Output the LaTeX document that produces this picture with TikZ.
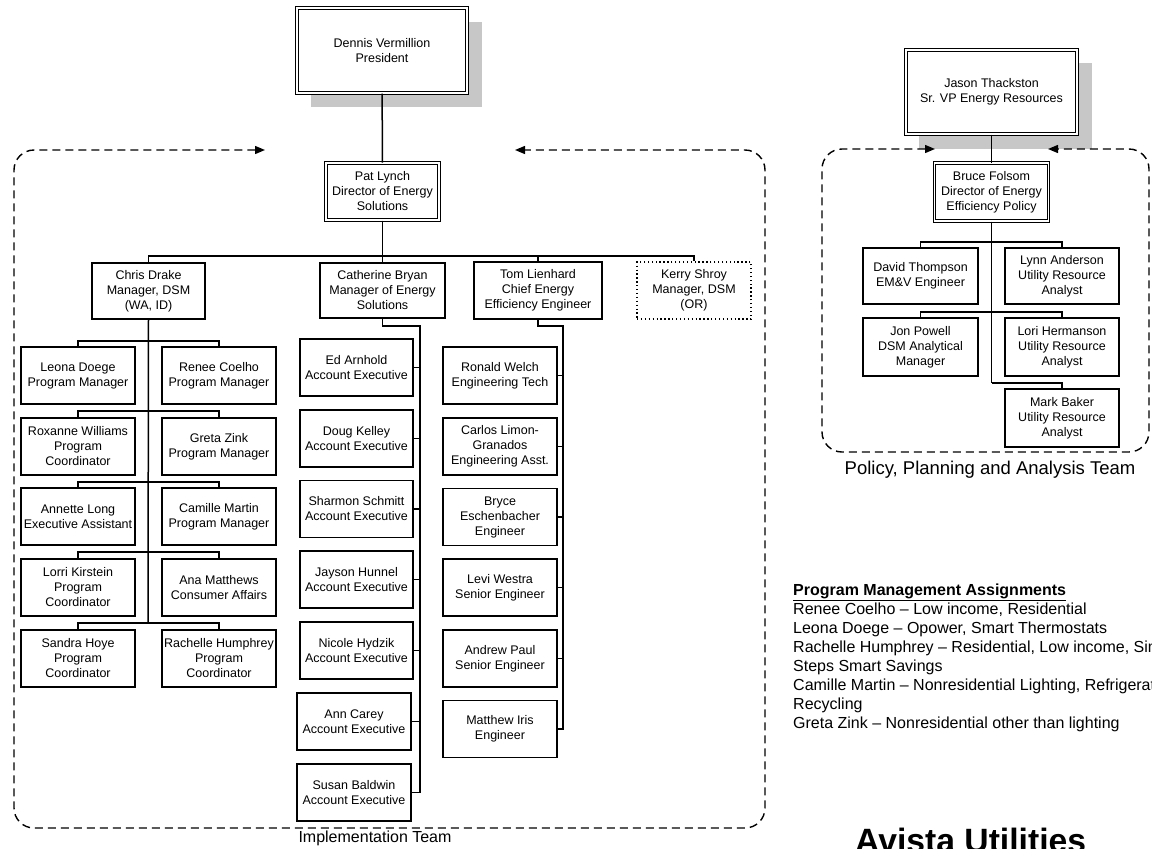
\documentclass[tikz,border=0pt]{standalone}
\usepackage{fontspec}
\setmainfont{Liberation Sans}
\usetikzlibrary{arrows.meta}
\begin{document}
\begin{tikzpicture}[x=1pt,y=-1pt,
  box/.style={draw, line width=1.5pt, rectangle, align=center, inner sep=1pt,
              font=\fontsize{12.5}{15}\selectfont, fill=white},
  dbox/.style={box, double, double distance=1.8pt, line width=1pt},
  dotbox/.style={box, line width=1.3pt, dash pattern=on 1.3pt off 2.6pt},
  wh/.style 2 args={minimum width=#1pt, minimum height=#2pt},
  conn/.style={line width=1.5pt},
  team/.style={line width=1.4pt, dash pattern=on 8pt off 5pt, rounded corners=20pt,
               {Triangle[length=10pt,width=8pt]}-{Triangle[length=10pt,width=8pt]}},
  shadowfill/.style={fill=black!22},
  teamlabel/.style={inner sep=0pt}
]
\useasboundingbox (0,0) rectangle (1152,849);
\clip (0,0) rectangle (1152,849);

% shadows
\fill[shadowfill] (311,22) rectangle (482,107);
\fill[shadowfill] (919,63) rectangle (1092,149);

% ---------- Implementation side ----------
\node[dbox, wh={170}{85}] (pres) at (382,50.5) {Dennis Vermillion\\President};
\node[dbox, wh={113}{57}] (pat) at (382.5,191.5) {Pat Lynch\\Director of Energy\\Solutions};

\node[box, wh={113}{56}] (chris) at (148.5,291) {Chris Drake\\Manager, DSM\\(WA, ID)};
\node[box, wh={125}{55}] (cath) at (382.5,290.5) {Catherine Bryan\\Manager of Energy\\Solutions};
\node[box, wh={128}{57}] (tom) at (538,290.5) {Tom Lienhard\\Chief Energy\\Efficiency Engineer};
\node[dotbox, wh={114}{57}] (kerry) at (694,290.5) {Kerry Shroy\\Manager, DSM\\(OR)};

% Chris Drake's team
\node[box, wh={114}{57}] (leona) at (78,375.5) {Leona Doege\\Program Manager};
\node[box, wh={114}{57}] (renee) at (219,375.5) {Renee Coelho\\Program Manager};
\node[box, wh={114}{57}] (roxanne) at (78,446.5) {Roxanne Williams\\Program\\Coordinator};
\node[box, wh={114}{57}] (greta) at (219,446.5) {Greta Zink\\Program Manager};
\node[box, wh={114}{57}] (annette) at (78,516.5) {Annette Long\\Executive Assistant};
\node[box, wh={114}{57}] (camille) at (219,516.5) {Camille Martin\\Program Manager};
\node[box, wh={114}{57}] (lorri) at (78,587.5) {Lorri Kirstein\\Program\\Coordinator};
\node[box, wh={114}{57}] (ana) at (219,587.5) {Ana Matthews\\Consumer Affairs};
\node[box, wh={114}{57}] (sandra) at (78,658.5) {Sandra Hoye\\Program\\Coordinator};
\node[box, wh={114}{57}] (rachelle) at (219,658.5) {Rachelle Humphrey\\Program\\Coordinator};

% Catherine Bryan's team
\node[box, wh={113}{57}] (ed) at (356.5,367.5) {Ed Arnhold\\Account Executive};
\node[box, wh={113}{57}] (doug) at (356.5,438.5) {Doug Kelley\\Account Executive};
\node[box, wh={113}{57}] (sharmon) at (356.5,509) {Sharmon Schmitt\\Account Executive};
\node[box, wh={113}{57}] (jayson) at (356.5,579.5) {Jayson Hunnel\\Account Executive};
\node[box, wh={113}{57}] (nicole) at (356.5,650.5) {Nicole Hydzik\\Account Executive};
\node[box, wh={114}{57}] (ann) at (354,721.5) {Ann Carey\\Account Executive};
\node[box, wh={114}{57}] (susan) at (354,792.5) {Susan Baldwin\\Account Executive};

% Tom Lienhard's team
\node[box, wh={114}{57}] (ronald) at (500,375.5) {Ronald Welch\\Engineering Tech};
\node[box, wh={114}{57}] (carlos) at (500,446.5) {Carlos Limon-\\Granados\\Engineering Asst.};
\node[box, wh={114}{57}] (bryce) at (500,517) {Bryce\\Eschenbacher\\Engineer};
\node[box, wh={114}{57}] (levi) at (500,587.5) {Levi Westra\\Senior Engineer};
\node[box, wh={114}{57}] (andrew) at (500,658.5) {Andrew Paul\\Senior Engineer};
\node[box, wh={114}{57}] (matthew) at (500,729) {Matthew Iris\\Engineer};

% connectors
\draw[conn] (pres) -- (pat);
\coordinate (mbar) at (382,256);
\draw[conn] (pat) -- (cath);
\draw[conn] (chris.north) |- (mbar) -| (kerry.north);
\draw[conn] (tom.north) -- (tom.north |- mbar);

\coordinate (cd1) at (148,341);
\coordinate (cd2) at (148,411);
\coordinate (cd3) at (148,482);
\coordinate (cd4) at (148,552);
\coordinate (cd5) at (148,623);
\draw[conn] (chris.south) -- (cd5);
\draw[conn] (leona.north) |- (cd1) -| (renee.north);
\draw[conn] (roxanne.north) |- (cd2) -| (greta.north);
\draw[conn] (annette.north) |- (cd3) -| (camille.north);
\draw[conn] (lorri.north) |- (cd4) -| (ana.north);
\draw[conn] (sandra.north) |- (cd5) -| (rachelle.north);

\coordinate (cbtop) at (420,326);
\draw[conn] (cath.south) |- (cbtop) -- (cbtop |- susan.east) -- (susan.east);
\foreach \n in {ed,doug,sharmon,jayson,nicole,ann}
  \draw[conn] (\n.east) -- (\n.east -| cbtop);

\coordinate (tltop) at (563,326);
\draw[conn] (tom.south) |- (tltop) -- (tltop |- matthew.east) -- (matthew.east);
\foreach \n in {ronald,carlos,bryce,levi,andrew}
  \draw[conn] (\n.east) -- (\n.east -| tltop);

% implementation team boundary
\coordinate (ia) at (265,150);
\coordinate (ib) at (515,150);
\draw[team] (ia) -- (14,150) -- (14,828) -- (765,828) -- (765,150) -- (ib);
\node[teamlabel, font=\fontsize{16}{18}\selectfont] (implab) at (375,838) {Implementation Team};

% ---------- Policy side ----------
\node[dbox, wh={171}{84}] (jason) at (991.5,92) {Jason Thackston\\Sr. VP Energy Resources};
\node[dbox, wh={114}{58}] (bruce) at (991.5,192) {Bruce Folsom\\Director of Energy\\Efficiency Policy};

\node[box, wh={115}{56}] (david) at (920.5,276) {David Thompson\\EM\&V Engineer};
\node[box, wh={114}{56}] (lynn) at (1062,276) {Lynn Anderson\\Utility Resource\\Analyst};
\node[box, wh={115}{58}] (jon) at (920.5,347) {Jon Powell\\DSM Analytical\\Manager};
\node[box, wh={114}{58}] (lori) at (1062,347) {Lori Hermanson\\Utility Resource\\Analyst};
\node[box, wh={114}{58}] (mark) at (1062,418) {Mark Baker\\Utility Resource\\Analyst};

\draw[conn] (jason) -- (bruce);
\coordinate (bf1) at (991.5,242);
\coordinate (bf2) at (991.5,312);
\coordinate (bf3) at (991.5,383);
\draw[conn] (bruce.south) -- (bf3);
\draw[conn] (david.north) |- (bf1) -| (lynn.north);
\draw[conn] (jon.north) |- (bf2) -| (lori.north);
\draw[conn] (bf3) -| (mark.north);

\coordinate (pa) at (935,149);
\coordinate (pb) at (1048,149);
\draw[team] (pa) -- (822,149) -- (822,452) -- (1149,452) -- (1149,149) -- (pb);
\node[teamlabel, font=\fontsize{18.5}{20}\selectfont] (pollab) at (990,470) {Policy, Planning and Analysis Team};

% ---------- Program management assignments ----------
\begin{scope}[every node/.style={anchor=base west, inner sep=0pt, font=\fontsize{16}{19}\selectfont}]
\node (pm0) at (793,595) {\textbf{\underline{Program Management Assignments}}};
\node (pm1) at (793,614) {Renee Coelho – Low income, Residential};
\node (pm2) at (793,633) {Leona Doege – Opower, Smart Thermostats};
\node (pm3) at (793,652) {Rachelle Humphrey – Residential, Low income, Simple};
\node (pm4) at (793,671) {Steps Smart Savings};
\node (pm5) at (793,690) {Camille Martin – Nonresidential Lighting, Refrigerator};
\node (pm6) at (793,709) {Recycling};
\node (pm7) at (793,728) {Greta Zink – Nonresidential other than lighting};
\end{scope}

\node[anchor=base west, inner sep=0pt, font=\fontsize{33.7}{40}\selectfont\bfseries] (avista) at (855,852) {Avista Utilities};
\end{tikzpicture}
\end{document}
